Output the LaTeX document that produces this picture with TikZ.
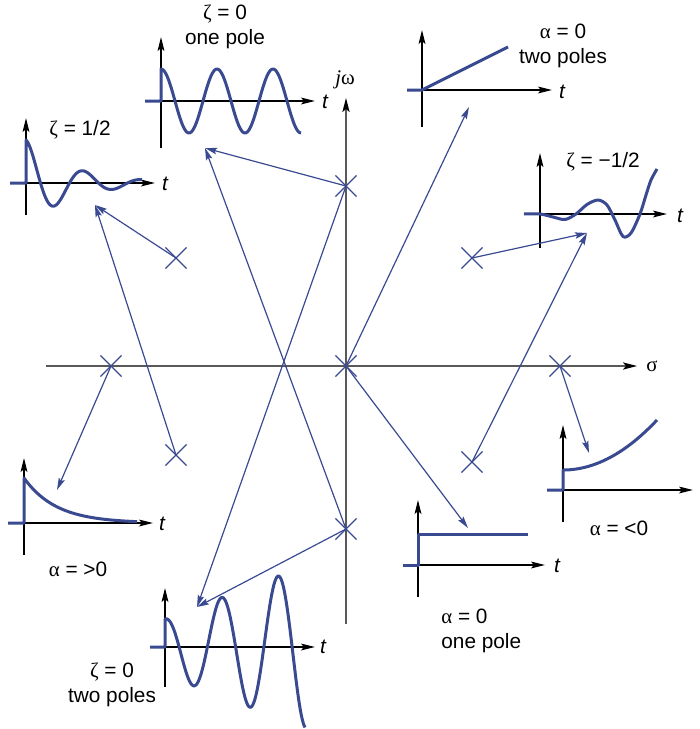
\documentclass[tikz,border=0pt]{standalone}
\usepackage{fontspec}
\setmainfont{Liberation Sans}
\newfontfamily\grk{Liberation Serif}
\usetikzlibrary{arrows.meta, shapes.misc}
\definecolor{respblue}{RGB}{58,74,145}
\tikzstyle{pole} = [draw=respblue, cross out, minimum size=10pt, inner sep=0pt, line width=0.6pt]
\tikzstyle{mainax} = [draw=black!65, line width=0.7pt, -{Stealth[length=7pt,width=3.6pt,inset=1.5pt,color=black]}]
\tikzstyle{tax} = [draw=black, line width=0.6pt, -{Stealth[length=7pt,width=3.4pt,inset=1.5pt]}]
\tikzstyle{resp} = [draw=respblue, line width=1.5pt, line join=round]
\tikzstyle{link} = [draw=respblue, line width=0.6pt, -{Stealth[length=6pt,width=3.2pt,inset=1pt]}]
\tikzstyle{lab} = [inner sep=0pt, font=\fontsize{10.4}{12.5}\selectfont, align=center]
\tikzstyle{tlab} = [inner sep=0pt, font=\fontsize{10.4}{12.5}\selectfont\itshape]

\begin{document}
\begin{tikzpicture}[x=0.5pt, y=-0.5pt]
    \useasboundingbox (0,0) rectangle (700,729);

    % s-plane
    \draw [mainax] (46,366) -- (637,366);
    \draw [mainax] (346,624) -- (346,98);
    \node (sigma) [lab] at (652,366) {{\grk σ}};
    \node (jw) [lab] at (345,80) {{\grk\itshape j}{\grk ω}};

    % Nodes
    \node (pjwp) [pole] at (346,186) {};
    \node (porig) [pole] at (346,366) {};
    \node (pjwm) [pole] at (346,529) {};
    \node (plh1) [pole] at (176,258) {};
    \node (plh2) [pole] at (176,455) {};
    \node (preal) [pole] at (111,366) {};
    \node (prh1) [pole] at (472,258) {};
    \node (prh2) [pole] at (472,462) {};
    \node (prr) [pole] at (560,366) {};

    % zeta = 0, one pole
    \draw [tax] (145,101) -- (315,101);
    \draw [tax] (161,148) -- (161,37);
    \draw [resp] (145,101) -- (161,101) -- (161,69)
        -- plot[domain=161:301, samples=120] (\x, {101-32*cos((\x-161)/56*360)});
    \node (tzo) [tlab] at (325,102) {t};
    \node (lzo) [lab] at (225,27) {{\grk ζ} = 0\\one pole};
    \coordinate (azo) at (205,148);

    % zeta = 1/2
    \draw [tax] (10,183) -- (155,183);
    \draw [tax] (26,215) -- (26,118);
    \draw [resp] (10,183) -- (26,183) -- (26,140)
        -- plot[domain=26:142, samples=100] (\x, {183-43*exp(-0.022*(\x-26))*cos((\x-26)/58*360)});
    \node (tzh) [tlab] at (165,184) {t};
    \node (lzh) [lab] at (80,130) {{\grk ζ} = 1/2};
    \coordinate (azh) at (95,205);

    % alpha = 0, two poles
    \draw [tax] (407,90) -- (552,90);
    \draw [tax] (422,127) -- (422,30);
    \draw [resp] (407,90) -- (422,90) -- (508,47);
    \node (tat) [tlab] at (562,92) {t};
    \node (lat) [lab] at (563,46) {{\grk α} = 0\\two poles};
    \coordinate (aat) at (469,107);

    % zeta = -1/2
    \draw [tax] (524,214) -- (667,214);
    \draw [tax] (540,248) -- (540,153);
    \draw [resp] plot[smooth] coordinates {(524,214) (540,214) (553,217) (565,219.5) (576,214)
        (587,204.5) (598,200) (607,205) (615,220) (623,236.5) (631,233) (640,214) (646,195)
        (651,180) (657,169)};
    \node (tzm) [tlab] at (680,216) {t};
    \node (lzm) [lab] at (603,162) {{\grk ζ} = −1/2};
    \coordinate (azm) at (587,233);

    % alpha > 0
    \draw [tax] (8,523) -- (153,523);
    \draw [tax] (24,555) -- (24,458);
    \draw [resp] (8,523) -- (24,523) -- (24,478)
        -- plot[domain=24:137, samples=80] (\x, {523-45*exp(-0.031*(\x-24))});
    \node (tap) [tlab] at (162,524) {t};
    \node (lap) [lab] at (78,569) {{\grk α} = >0};
    \coordinate (aap) at (57,490);

    % zeta = 0, two poles
    \draw [tax] (150,647) -- (315,647);
    \draw [tax] (165,687) -- (165,588);
    \draw [resp] (150,647) -- (165,647) -- (165,619)
        -- plot[domain=165:305, samples=140] (\x, {647-(28+0.38*(\x-165))*cos((\x-165)/56.5*360)});
    \node (tzt) [tlab] at (323,647) {t};
    \node (lzt) [lab] at (112,685) {{\grk ζ} = 0\\two poles};
    \coordinate (azt) at (197,607);

    % alpha = 0, one pole
    \draw [tax] (403,565) -- (545,565);
    \draw [tax] (418,597) -- (418,500);
    \draw [resp] (403,565) -- (418,565) -- (418,534) -- (528,534);
    \node (tao) [tlab] at (557,566) {t};
    \node (lao) [lab, align=left, anchor=west] at (441,631) {{\grk α} = 0\\one pole};
    \coordinate (aao) at (468,528);

    % alpha < 0
    \draw [tax] (547,490) -- (693,490);
    \draw [tax] (563,522) -- (563,425);
    \draw [resp] (547,490) -- (563,490) -- (563,470)
        -- plot[domain=563:657, samples=60] (\x, {470-50*((\x-563)/94)^2});
    \node (lan) [lab] at (619,528) {{\grk α} = <0};
    \coordinate (aan) at (589,453);

    % Arrows
    \draw [link] (pjwp.center) -- (azo);
    \draw [link] (pjwm.center) -- (azo);
    \draw [link] (pjwp.center) -- (azt);
    \draw [link] (pjwm.center) -- (azt);
    \draw [link] (plh1.center) -- (azh);
    \draw [link] (plh2.center) -- (azh);
    \draw [link] (preal.center) -- (aap);
    \draw [link] (porig.center) -- (aat);
    \draw [link] (porig.center) -- (aao);
    \draw [link] (prh1.center) -- (azm);
    \draw [link] (prh2.center) -- (azm);
    \draw [link] (prr.center) -- (aan);
\end{tikzpicture}
\end{document}
